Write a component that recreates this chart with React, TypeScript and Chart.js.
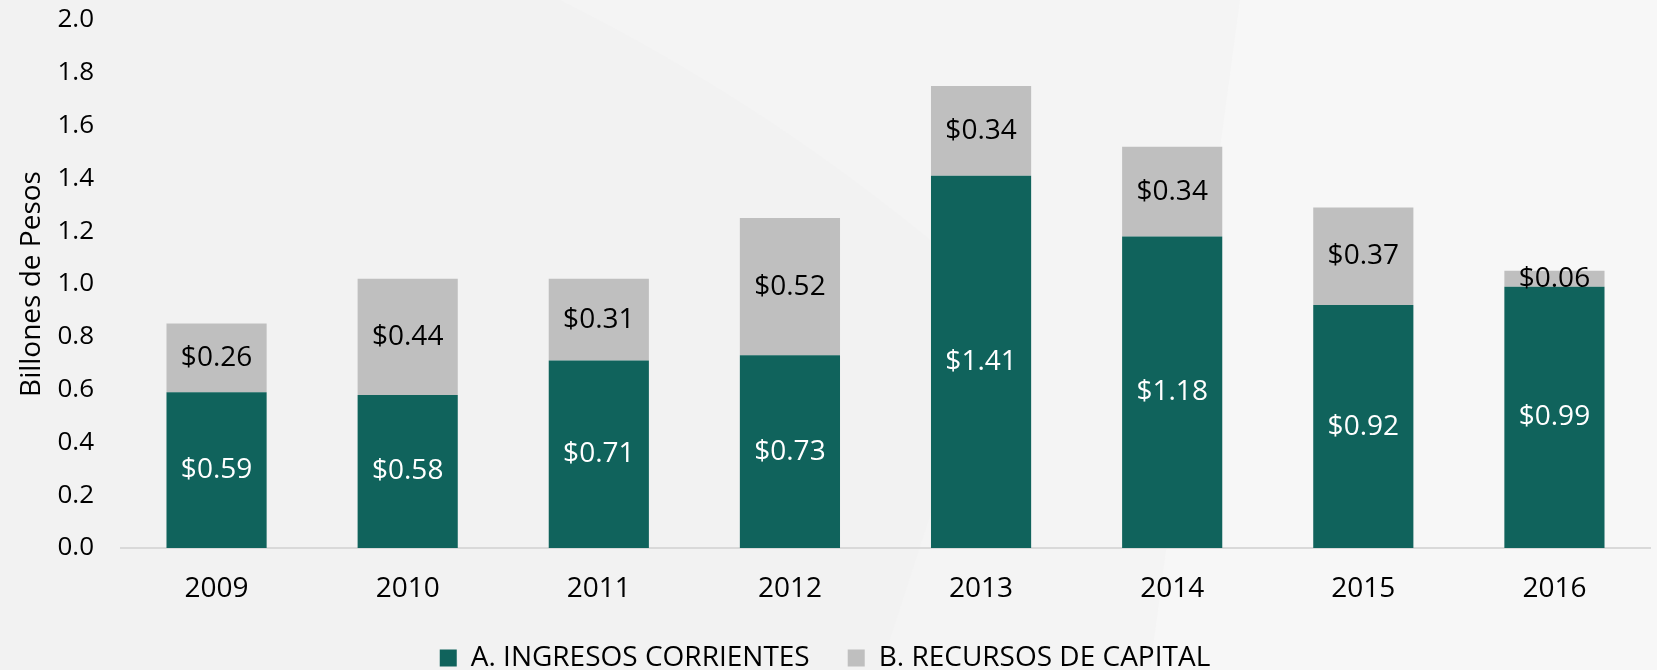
import React, { useEffect, useRef } from "react";
import { Chart, registerables } from "chart.js";

Chart.register(...registerables);

const years = ["2009", "2010", "2011", "2012", "2013", "2014", "2015", "2016"];
const ingresosCorrientes = [0.59, 0.58, 0.71, 0.73, 1.41, 1.18, 0.92, 0.99];
const recursosCapital = [0.26, 0.44, 0.31, 0.52, 0.34, 0.34, 0.37, 0.06];
const seriesNames = ["A. INGRESOS CORRIENTES", "B. RECURSOS DE CAPITAL"];
const yTicks = [0, 0.2, 0.4, 0.6, 0.8, 1.0, 1.2, 1.4, 1.6, 1.8, 2.0];

const FONT = "'Open Sans', 'Noto Sans', sans-serif";
const GREEN = "#10635c";
const GRAY = "#bfbfbf";

const backgroundPlugin = {
  id: "bgPaint",
  beforeDraw(chart: any) {
    const { ctx, width, height } = chart;
    ctx.save();
    ctx.fillStyle = "#f2f2f2";
    ctx.fillRect(0, 0, width, height);
    ctx.fillStyle = "#f4f4f4";
    ctx.beginPath();
    ctx.moveTo(560, 0);
    ctx.quadraticCurveTo(800, 120, 1000, 300);
    ctx.lineTo(880, height);
    ctx.lineTo(width, height);
    ctx.lineTo(width, 0);
    ctx.closePath();
    ctx.fill();
    ctx.fillStyle = "#f7f7f7";
    ctx.beginPath();
    ctx.moveTo(1240, 0);
    ctx.lineTo(width, 0);
    ctx.lineTo(width, height);
    ctx.lineTo(1150, height);
    ctx.closePath();
    ctx.fill();
    ctx.restore();
  },
};

const valueLabelPlugin = {
  id: "valueLabels",
  afterDatasetsDraw(chart: any) {
    const { ctx } = chart;
    ctx.save();
    ctx.font = `28px ${FONT}`;
    ctx.textAlign = "center";
    ctx.textBaseline = "middle";
    chart.data.datasets.forEach((ds: any, di: number) => {
      const meta = chart.getDatasetMeta(di);
      if (meta.hidden) return;
      ctx.fillStyle = di === 0 ? "#ffffff" : "#000000";
      meta.data.forEach((el: any, i: number) => {
        const v = ds.data[i];
        const y = (el.y + el.base) / 2;
        ctx.fillText("$" + v.toFixed(2), el.x, y);
      });
    });
    ctx.restore();
  },
};

export default function App() {
  const ref = useRef<HTMLCanvasElement | null>(null);

  useEffect(() => {
    document.body.style.margin = "0";
    const canvas = ref.current;
    if (!canvas) return;
    const chart = new Chart(canvas, {
      type: "bar",
      data: {
        labels: years,
        datasets: [
          {
            label: seriesNames[0],
            data: ingresosCorrientes,
            backgroundColor: GREEN,
            categoryPercentage: 1,
            barPercentage: 0.524,
          },
          {
            label: seriesNames[1],
            data: recursosCapital,
            backgroundColor: GRAY,
            categoryPercentage: 1,
            barPercentage: 0.524,
          },
        ],
      },
      options: {
        responsive: false,
        animation: false,
        layout: { padding: { top: 0, right: 7, left: 0, bottom: -12 } },
        plugins: {
          legend: {
            position: "bottom",
            labels: {
              boxWidth: 17,
              boxHeight: 17,
              padding: 38,
              color: "#000000",
              font: { family: FONT, size: 28 },
            },
          },
          tooltip: { enabled: false },
        },
        scales: {
          x: {
            stacked: true,
            grid: { display: false, drawTicks: false },
            border: { display: true, color: "#d9d9d9", width: 2 },
            ticks: {
              color: "#000000",
              padding: 24,
              font: { family: FONT, size: 28 },
            },
            afterFit(scale: any) {
              scale.height = 58;
            },
          },
          y: {
            stacked: true,
            min: 0,
            max: 2,
            afterBuildTicks(scale: any) {
              scale.ticks = yTicks.map((v) => ({ value: v }));
            },
            grid: { display: false, drawTicks: false },
            border: { display: false },
            ticks: {
              color: "#000000",
              padding: 27,
              font: { family: FONT, size: 26 },
              callback: (v: any) => Number(v).toFixed(1),
            },
            title: {
              display: true,
              text: "Billones de Pesos",
              color: "#000000",
              font: { family: FONT, size: 28 },
              padding: { top: 15, bottom: 0 },
            },
            afterFit(scale: any) {
              scale.width = 121;
              scale.paddingTop = 20;
              scale.paddingBottom = 16;
            },
          },
        },
      },
      plugins: [backgroundPlugin, valueLabelPlugin],
    });
    return () => chart.destroy();
  }, []);

  return (
    <div style={{ width: 1657, height: 670 }}>
      <canvas ref={ref} width={1657} height={670} style={{ display: "block" }} />
    </div>
  );
}
